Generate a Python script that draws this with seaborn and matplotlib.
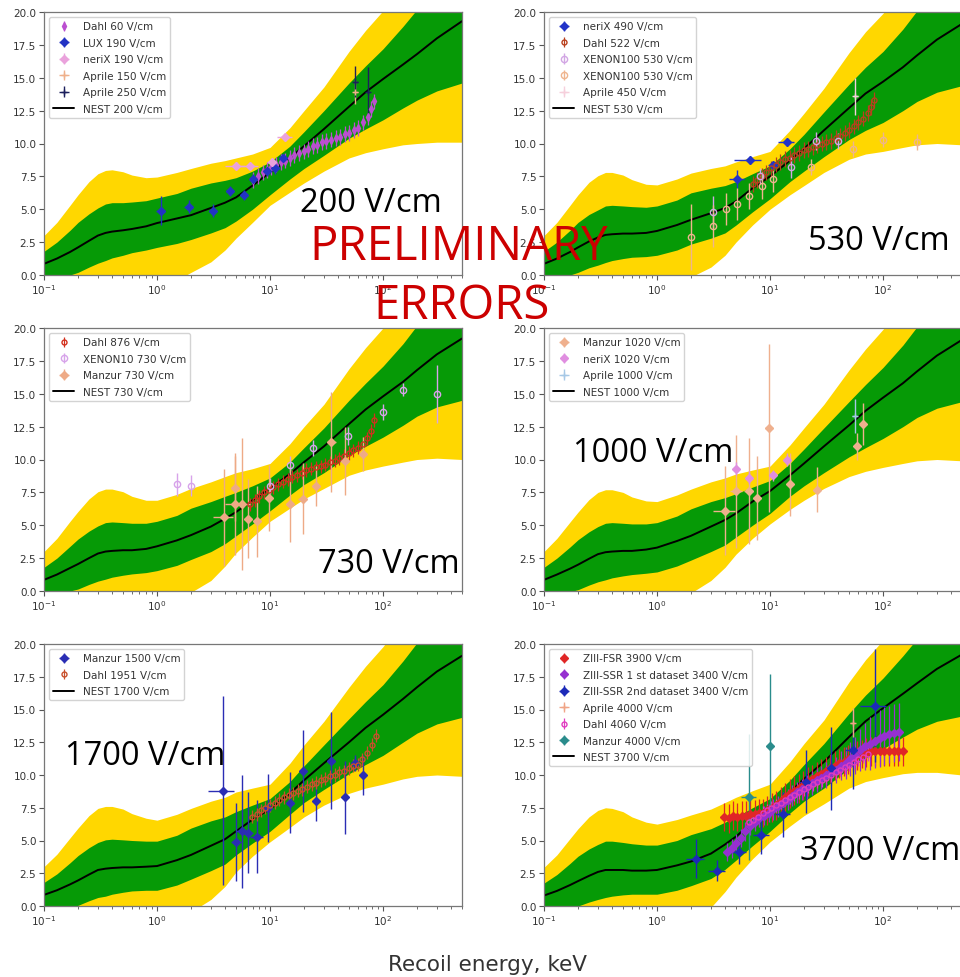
import matplotlib
matplotlib.use("Agg")
import matplotlib.pyplot as plt
import seaborn as sns
from matplotlib.ticker import FormatStrFormatter

# ---------------- NEST model: common energy grid (keV) ----------------
ENERGY = [0.1, 0.13, 0.17, 0.2, 0.25, 0.3, 0.35, 0.4, 0.5, 0.6, 0.8, 1, 1.5, 2, 3, 4, 5,
          7, 10, 15, 20, 30, 50, 70, 100, 150, 200, 300, 500]

# band extents relative to the NEST mean (green = 1 sigma, yellow = 2 sigma)
GREEN_UP = [0.95, 1.25, 1.65, 1.9, 2.05, 2.1, 2.2, 2.2, 2.1, 2.05, 1.95, 1.9, 1.9, 2.05, 1.9,
            1.7, 1.5, 1.1, 0.8, 0.9, 1.1, 1.4, 1.8, 2.0, 2.3, 2.9, 3.4, 3.5, 3.7]
GREEN_DN = [1.45, 1.55, 1.75, 1.9, 2.0, 2.1, 2.1, 2.0, 1.9, 1.8, 1.8, 1.85, 1.9, 1.85, 1.9,
            1.9, 1.8, 1.8, 1.7, 1.6, 1.7, 2.0, 2.4, 2.8, 3.1, 3.3, 3.5, 4.0, 4.7]
YELLOW_UP = [2.15, 2.75, 3.55, 4.0, 4.5, 4.7, 4.75, 4.7, 4.45, 4.1, 3.7, 3.5, 3.5, 3.55, 3.4,
             3.2, 3.0, 2.4, 1.9, 2.3, 2.7, 3.2, 4.2, 4.7, 5.2, 6.0, 7.2, 8.0, 9.7]
YELLOW_DN = [3.85, 4.05, 4.25, 4.4, 4.6, 4.8, 4.9, 4.9, 4.9, 4.9, 4.9, 4.95, 4.7, 4.35, 4.1,
             3.6, 3.1, 2.8, 2.5, 2.6, 2.8, 3.2, 3.9, 4.6, 5.3, 6.1, 6.8, 7.9, 9.2]

NEST_200 = [0.85, 1.25, 1.75, 2.1, 2.6, 3.0, 3.2, 3.3, 3.4, 3.5, 3.7, 3.95, 4.3, 4.55, 5.1,
            5.5, 5.9, 6.8, 7.8, 8.9, 9.8, 11.1, 12.8, 13.9, 14.9, 16.0, 16.8, 18.0, 19.3]
NEST_530 = [0.85, 1.25, 1.75, 2.1, 2.55, 2.85, 3.05, 3.1, 3.15, 3.15, 3.2, 3.35, 3.8, 4.2, 4.7,
            5.1, 5.6, 6.6, 7.5, 8.7, 9.6, 11.0, 12.7, 13.8, 14.7, 15.8, 16.7, 17.9, 19.1]
NEST_730 = [0.85, 1.25, 1.75, 2.05, 2.5, 2.85, 3.0, 3.05, 3.1, 3.1, 3.2, 3.4, 3.85, 4.25, 4.9,
            5.5, 6.0, 6.9, 7.8, 8.9, 9.8, 11.0, 12.7, 13.8, 14.8, 15.9, 16.8, 18.0, 19.2]
NEST_1000 = [0.85, 1.25, 1.7, 2.0, 2.45, 2.8, 2.95, 3.0, 3.05, 3.05, 3.15, 3.3, 3.8, 4.2, 4.9,
             5.4, 5.9, 6.8, 7.6, 8.8, 9.7, 11.0, 12.6, 13.7, 14.7, 15.8, 16.7, 17.9, 19.1]
NEST_1700 = [0.85, 1.2, 1.65, 1.95, 2.4, 2.75, 2.85, 2.9, 2.95, 2.95, 3.0, 3.05, 3.5, 3.9, 4.6,
             5.1, 5.7, 6.6, 7.4, 8.6, 9.6, 10.9, 12.5, 13.6, 14.6, 15.8, 16.7, 17.9, 19.1]
NEST_3700 = [0.8, 1.15, 1.6, 1.9, 2.3, 2.6, 2.75, 2.75, 2.75, 2.7, 2.7, 2.75, 3.1, 3.4, 4.0,
             4.7, 5.3, 6.4, 7.4, 8.7, 9.7, 11.0, 12.9, 14.1, 15.1, 16.2, 17.0, 18.1, 19.2]

# ---------------- measurements: 200 V/cm ----------------
DAHL60_E = [7.1, 7.8, 8.6, 9.4, 10.3, 11.3, 12.4, 13.6, 15.0, 16.4, 18.0, 19.8, 21.7, 23.8,
            26.1, 28.7, 31.5, 34.6, 38.0, 41.7, 45.8, 50.3, 55.2, 60.6, 66.5, 73.0, 78.0, 83.0]
DAHL60_Y = [7.2, 7.5, 7.8, 8.0, 8.2, 8.4, 8.6, 8.7, 8.9, 9.1, 9.3, 9.4, 9.6, 9.8, 9.9, 10.1,
            10.2, 10.3, 10.4, 10.5, 10.7, 10.8, 11.0, 11.2, 11.6, 12.0, 12.6, 13.2]
DAHL60_YERR = 0.6
LUX190_E = [1.08, 1.9, 3.1, 4.4, 5.9, 7.1, 9.4, 11.0, 12.9]
LUX190_Y = [4.9, 5.2, 4.9, 6.4, 6.1, 7.3, 7.9, 8.1, 8.9]
LUX190_YERR = [1.1, 0.5, 0.5, 0.4, 0.4, 0.4, 0.4, 0.4, 0.3]
LUX190_XERR = [0.1, 0.15, 0.2, 0.3, 0.4, 0.5, 0.6, 0.7, 0.8]
NERIX190_E = [5.0, 6.6, 10.4, 13.5]
NERIX190_Y = [8.3, 8.3, 8.6, 10.5]
NERIX190_YERR = [0.3, 0.3, 0.3, 0.3]
NERIX190_XERR = [1.0, 1.2, 1.0, 2.0]
APRILE150_E = [57.0]
APRILE150_Y = [13.9]
APRILE150_YERR = [0.9]
APRILE250_E = [57.0, 74.0]
APRILE250_Y = [14.7, 13.9]
APRILE250_YERR = [1.2, 1.9]

# ---------------- measurements: 530 V/cm ----------------
NERIX490_E = [5.1, 6.6, 10.6, 14.0]
NERIX490_Y = [7.3, 8.75, 8.4, 10.1]
NERIX490_YERR = [0.7, 0.3, 0.3, 0.3]
NERIX490_XERR = [0.8, 1.8, 1.0, 2.2]
DAHL522_E = [7.0, 7.7, 8.5, 9.3, 10.2, 11.2, 12.3, 13.5, 14.9, 16.4, 18.0, 19.8, 21.7, 23.8,
             26.1, 28.7, 31.5, 34.6, 38.0, 41.7, 45.8, 50.3, 55.2, 60.6, 66.5, 73.0, 78.0, 83.0]
DAHL522_Y = [6.9, 7.2, 7.5, 7.8, 8.1, 8.4, 8.6, 8.8, 8.9, 9.1, 9.3, 9.5, 9.6, 9.7, 9.9, 10.0,
             10.1, 10.2, 10.4, 10.6, 10.8, 11.0, 11.3, 11.6, 11.9, 12.3, 12.8, 13.3]
DAHL522_YERR = 0.6
XE100A_E = [3.1, 8.2, 15.2, 25.5, 40.0]
XE100A_Y = [4.8, 7.5, 8.2, 10.2, 10.2]
XE100A_YERR = [1.2, 0.6, 0.8, 0.7, 0.6]
XE100B_E = [2.0, 3.1, 4.1, 5.1, 6.5, 8.5, 10.7, 23.0, 54.0, 100.0, 200.0]
XE100B_Y = [2.9, 3.7, 5.0, 5.4, 6.0, 6.8, 7.3, 8.2, 9.6, 10.3, 10.1]
XE100B_YERR = [2.5, 1.6, 1.2, 1.2, 1.0, 1.0, 1.0, 0.6, 0.6, 0.6, 0.6]
APRILE450_E = [57.0]
APRILE450_Y = [13.6]
APRILE450_YERR = [1.4]

# ---------------- measurements: 730 V/cm ----------------
DAHL876_E = [6.6, 7.3, 8.0, 8.8, 9.7, 10.7, 11.8, 13.0, 14.3, 15.8, 17.4, 19.1, 21.0, 23.1,
             25.4, 28.0, 30.8, 33.9, 37.3, 41.0, 45.1, 49.6, 54.6, 60.0, 66.0, 72.6, 78.0, 84.0]
DAHL876_Y = [6.6, 6.9, 7.2, 7.5, 7.7, 7.9, 8.1, 8.3, 8.5, 8.7, 8.8, 9.0, 9.2, 9.3, 9.4, 9.5,
             9.6, 9.8, 9.9, 10.1, 10.3, 10.5, 10.7, 10.9, 11.2, 11.6, 12.2, 13.0]
DAHL876_YERR = 0.5
XE10_E = [1.5, 2.0, 10.0, 15.0, 24.0, 49.0, 100.0, 150.0, 300.0]
XE10_Y = [8.1, 8.0, 8.0, 9.6, 10.9, 11.8, 13.6, 15.3, 15.0]
XE10_YERR = [0.9, 0.8, 0.6, 0.7, 0.6, 0.7, 0.6, 0.5, 2.2]
MANZUR730_E = [3.9, 4.9, 4.9, 5.7, 6.4, 7.6, 9.8, 15.0, 19.5, 25.5, 35.0, 46.0, 66.0]
MANZUR730_Y = [5.6, 6.6, 7.8, 6.6, 5.5, 5.3, 7.1, 6.6, 7.0, 8.0, 11.3, 9.9, 10.4]
MANZUR730_YERR = [3.7, 3.9, 2.5, 5.0, 3.0, 2.7, 2.5, 2.9, 2.7, 1.5, 3.8, 2.6, 1.3]
MANZUR730_XERR = [0.8, 0.9, 0.4, 1.0, 0.5, 0.6, 0.8, 1.2, 1.8, 2.0, 3.0, 4.0, 5.0]

# ---------------- measurements: 1000 V/cm ----------------
MANZUR1020_E = [4.0, 5.0, 6.5, 7.7, 9.8, 15.0, 26.0, 59.0, 67.0]
MANZUR1020_Y = [6.1, 7.6, 7.6, 7.1, 12.4, 8.1, 7.7, 11.0, 12.7]
MANZUR1020_YERR = [3.4, 4.3, 4.0, 3.2, 6.4, 2.4, 1.7, 1.0, 1.6]
MANZUR1020_XERR = [0.9, 0.6, 0.6, 0.6, 0.8, 0.8, 1.2, 2.0, 2.0]
NERIX1020_E = [5.0, 6.5, 10.6, 14.0]
NERIX1020_Y = [9.3, 8.6, 8.8, 10.0]
NERIX1020_YERR = [0.5, 0.5, 0.4, 0.5]
APRILE1000_E = [56.0]
APRILE1000_Y = [13.3]
APRILE1000_YERR = [1.3]

# ---------------- measurements: 1700 V/cm ----------------
MANZUR1500_E = [3.8, 5.0, 5.6, 6.4, 7.6, 9.6, 15.0, 19.5, 25.5, 35.0, 46.0, 57.0, 66.0]
MANZUR1500_Y = [8.8, 4.9, 5.7, 5.6, 5.3, 7.5, 7.9, 10.3, 8.0, 11.1, 8.3, 10.9, 10.0]
MANZUR1500_YERR = [7.2, 3.0, 4.3, 3.1, 2.8, 2.6, 2.3, 3.1, 1.5, 3.7, 2.8, 0.6, 1.5]
MANZUR1500_XERR = [1.0, 0.5, 0.6, 0.6, 1.0, 0.5, 0.8, 1.0, 1.2, 1.5, 2.0, 2.5, 3.0]
DAHL1951_E = [6.9, 7.6, 8.3, 9.1, 10.0, 11.0, 12.1, 13.3, 14.6, 16.0, 17.6, 19.3, 21.2, 23.3,
              25.6, 28.1, 30.9, 33.9, 37.3, 41.0, 45.0, 49.5, 54.4, 59.8, 65.7, 72.2, 79.3, 87.0]
DAHL1951_Y = [6.8, 7.0, 7.3, 7.5, 7.7, 7.9, 8.1, 8.3, 8.5, 8.6, 8.8, 8.9, 9.1, 9.3, 9.4, 9.6,
              9.7, 9.9, 10.0, 10.2, 10.3, 10.5, 10.7, 10.8, 11.2, 11.7, 12.3, 13.0]
DAHL1951_YERR = 0.5

# ---------------- measurements: 3700 V/cm ----------------
ZFSR_E = [3.9, 4.3, 4.7, 5.1, 5.6, 6.1, 6.7, 7.3, 8.0, 8.7, 9.5, 10.4, 11.4, 12.5, 13.7, 15.0,
          16.4, 18.0, 19.7, 21.6, 23.6, 25.9, 28.4, 31.1, 34.1, 37.4, 41.0, 45.0, 49.3, 54.0,
          59.2, 64.9, 71.1, 78.0, 85.5, 93.7, 103.0, 113.0, 124.0, 136.0, 149.0]
ZFSR_Y = [6.8, 6.7, 6.9, 6.8, 6.9, 6.9, 7.0, 7.0, 7.1, 7.1, 7.3, 7.5, 7.7, 8.0, 8.3, 8.6, 8.8,
          9.0, 9.2, 9.5, 9.7, 9.9, 10.1, 10.3, 10.5, 10.7, 10.9, 11.0, 11.2, 11.4, 11.5, 11.6,
          11.7, 11.8, 11.8, 11.8, 11.8, 11.8, 11.8, 11.8, 11.8]
ZFSR_YERR = 1.1
ZSSR1_E = [4.2, 4.6, 5.0, 5.5, 6.0, 6.6, 7.3, 8.0, 8.8, 9.7, 10.7, 11.8, 13.0, 14.3, 15.8, 17.4,
           19.2, 21.2, 23.4, 25.8, 28.5, 31.4, 34.7, 38.3, 42.3, 46.7, 51.5, 56.9, 62.8, 69.3,
           76.5, 84.5, 93.3, 103.0, 114.0, 126.0, 139.0]
ZSSR1_Y = [4.1, 4.4, 4.8, 5.2, 5.7, 6.1, 6.4, 6.7, 6.9, 7.1, 7.4, 7.6, 7.9, 8.1, 8.4, 8.7, 8.9,
           9.1, 9.4, 9.6, 9.8, 10.0, 10.2, 10.4, 10.7, 10.9, 11.2, 11.5, 11.9, 12.2, 12.4, 12.6,
           12.8, 13.0, 13.1, 13.2, 13.3]
ZSSR1_YERR = [0.7, 0.7, 0.7, 0.7, 0.7, 0.7, 0.7, 0.7, 0.7, 0.7, 0.8, 0.8, 0.8, 0.8, 0.8, 0.8,
              0.8, 0.9, 0.9, 0.9, 0.9, 1.0, 1.0, 1.0, 1.1, 1.2, 1.3, 1.4, 1.6, 1.8, 2.0, 2.1,
              2.2, 2.2, 2.2, 2.2, 2.2]
ZSSR2_E = [2.2, 3.4, 5.3, 8.4, 13.0, 21.0, 35.0, 54.0, 85.0]
ZSSR2_Y = [3.6, 2.7, 4.1, 5.4, 7.0, 9.5, 10.5, 11.9, 15.3]
ZSSR2_YERR = [1.5, 0.8, 0.9, 1.4, 1.7, 2.4, 3.2, 3.0, 4.3]
ZSSR2_XERR = [0.4, 0.6, 0.8, 1.3, 2.0, 3.0, 5.0, 8.0, 22.0]
APRILE4000_E = [54.0]
APRILE4000_Y = [14.0]
APRILE4000_YERR = [1.1]
DAHL4060_E = [6.5, 7.1, 7.8, 8.6, 9.4, 10.3, 11.3, 12.4, 13.6, 15.0, 16.4, 18.0, 19.8, 21.7,
              23.8, 26.1, 28.7, 31.5, 34.6, 38.0, 41.7, 45.8, 50.3, 55.2, 60.6, 66.5, 73.0]
DAHL4060_Y = [6.4, 6.6, 6.8, 7.1, 7.3, 7.5, 7.7, 7.9, 8.1, 8.3, 8.5, 8.7, 8.9, 9.1, 9.3, 9.5,
              9.6, 9.8, 10.0, 10.2, 10.4, 10.6, 10.8, 11.0, 11.2, 11.4, 11.6]
DAHL4060_YERR = 0.5
MANZUR4000_E = [6.5, 10.0]
MANZUR4000_Y = [8.3, 12.2]
MANZUR4000_YERR = [4.8, 5.5]
MANZUR4000_XERR = [1.0, 0.5]

# ---------------- styling ----------------
sns.set_style("ticks")
plt.rcParams["font.family"] = ["DejaVu Sans"]
GREEN = "#069a06"
YELLOW = "#ffd700"
ANNOT_FONT = ["Open Sans", "DejaVu Sans"]

W, H = 960, 978
fig = plt.figure(figsize=(W / 100, H / 100), dpi=100)


def px_axes(x0, y_top, x1, y_bot):
    return fig.add_axes([x0 / W, 1 - y_bot / H, (x1 - x0) / W, (y_bot - y_top) / H])


def series(e, y, yerr, color, marker, label, xerr=None, hollow=False, ms=4.5, dense=False):
    return dict(e=e, y=y, yerr=yerr, xerr=xerr, color=color, marker=marker,
                label=label, hollow=hollow, ms=ms, dense=dense)


PANELS = [
    dict(rect=(44, 13, 462, 276), nest=NEST_200, nest_label="NEST 200 V/cm", data=[
        series(DAHL60_E, DAHL60_Y, DAHL60_YERR, "#bb4fd0", "d", "Dahl 60 V/cm", dense=True),
        series(LUX190_E, LUX190_Y, LUX190_YERR, "#2233c4", "D", "LUX 190 V/cm", xerr=LUX190_XERR),
        series(NERIX190_E, NERIX190_Y, NERIX190_YERR, "#eaa2dc", "D", "neriX 190 V/cm",
               xerr=NERIX190_XERR),
        series(APRILE150_E, APRILE150_Y, APRILE150_YERR, "#efb08a", "+", "Aprile 150 V/cm",
               xerr=[3.0], ms=5),
        series(APRILE250_E, APRILE250_Y, APRILE250_YERR, "#1c1f5c", "+", "Aprile 250 V/cm",
               xerr=[3.0, 3.0], ms=5),
    ]),
    dict(rect=(544, 13, 962, 276), nest=NEST_530, nest_label="NEST 530 V/cm", data=[
        series(NERIX490_E, NERIX490_Y, NERIX490_YERR, "#2233c8", "D", "neriX 490 V/cm",
               xerr=NERIX490_XERR),
        series(DAHL522_E, DAHL522_Y, DAHL522_YERR, "#b8401e", "o", "Dahl 522 V/cm", hollow=True,
               dense=True),
        series(XE100A_E, XE100A_Y, XE100A_YERR, "#d2a6e4", "o", "XENON100 530 V/cm", hollow=True),
        series(XE100B_E, XE100B_Y, XE100B_YERR, "#efb48e", "o", "XENON100 530 V/cm", hollow=True),
        series(APRILE450_E, APRILE450_Y, APRILE450_YERR, "#f6d0dc", "+", "Aprile 450 V/cm",
               xerr=[3.0], ms=5),
    ]),
    dict(rect=(44, 329, 462, 592), nest=NEST_730, nest_label="NEST 730 V/cm", data=[
        series(DAHL876_E, DAHL876_Y, DAHL876_YERR, "#d2301e", "o", "Dahl 876 V/cm", hollow=True,
               dense=True),
        series(XE10_E, XE10_Y, XE10_YERR, "#d7a3ea", "o", "XENON10 730 V/cm", hollow=True),
        series(MANZUR730_E, MANZUR730_Y, MANZUR730_YERR, "#eeaa86", "D", "Manzur 730 V/cm",
               xerr=MANZUR730_XERR),
    ]),
    dict(rect=(544, 329, 962, 592), nest=NEST_1000, nest_label="NEST 1000 V/cm", data=[
        series(MANZUR1020_E, MANZUR1020_Y, MANZUR1020_YERR, "#efb08e", "D", "Manzur 1020 V/cm",
               xerr=MANZUR1020_XERR),
        series(NERIX1020_E, NERIX1020_Y, NERIX1020_YERR, "#e08ee0", "D", "neriX 1020 V/cm"),
        series(APRILE1000_E, APRILE1000_Y, APRILE1000_YERR, "#a6c8e6", "+", "Aprile 1000 V/cm",
               xerr=[3.0], ms=5),
    ]),
    dict(rect=(44, 645, 462, 907), nest=NEST_1700, nest_label="NEST 1700 V/cm", data=[
        series(MANZUR1500_E, MANZUR1500_Y, MANZUR1500_YERR, "#2a2db4", "D", "Manzur 1500 V/cm",
               xerr=MANZUR1500_XERR),
        series(DAHL1951_E, DAHL1951_Y, DAHL1951_YERR, "#c8502c", "o", "Dahl 1951 V/cm", hollow=True,
               dense=True),
    ]),
    dict(rect=(544, 645, 962, 907), nest=NEST_3700, nest_label="NEST 3700 V/cm", data=[
        series(ZFSR_E, ZFSR_Y, ZFSR_YERR, "#e02626", "D", "ZIII-FSR 3900 V/cm", dense=True),
        series(ZSSR1_E, ZSSR1_Y, ZSSR1_YERR, "#9630d0", "D", "ZIII-SSR 1 st dataset 3400 V/cm",
               dense=True),
        series(ZSSR2_E, ZSSR2_Y, ZSSR2_YERR, "#1c2ab8", "D", "ZIII-SSR 2nd dataset 3400 V/cm",
               xerr=ZSSR2_XERR),
        series(APRILE4000_E, APRILE4000_Y, APRILE4000_YERR, "#f0a486", "+", "Aprile 4000 V/cm",
               xerr=[3.0], ms=5),
        series(DAHL4060_E, DAHL4060_Y, DAHL4060_YERR, "#e03cc0", "o", "Dahl 4060 V/cm",
               hollow=True, dense=True),
        series(MANZUR4000_E, MANZUR4000_Y, MANZUR4000_YERR, "#2a8c8c", "D", "Manzur 4000 V/cm",
               xerr=MANZUR4000_XERR),
    ]),
]

for panel in PANELS:
    ax = px_axes(*panel["rect"])
    nest = panel["nest"]
    g_hi = [n + d for n, d in zip(nest, GREEN_UP)]
    g_lo = [n - d for n, d in zip(nest, GREEN_DN)]
    y_hi = [n + d for n, d in zip(nest, YELLOW_UP)]
    y_lo = [n - d for n, d in zip(nest, YELLOW_DN)]

    ax.fill_between(ENERGY, y_lo, y_hi, color=YELLOW, lw=0, zorder=1)
    ax.fill_between(ENERGY, g_lo, g_hi, color=GREEN, lw=0, zorder=1.5)
    sns.lineplot(x=ENERGY, y=nest, ax=ax, color="black", lw=1.4, sort=False,
                 legend=False, zorder=2)
    nest_line = ax.get_lines()[-1]
    nest_line.set_label(panel["nest_label"])

    handles = []
    for s in panel["data"]:
        ms = 3.6 if s["dense"] else s["ms"]
        elw = 0.9 if s["dense"] else 1.0
        h = ax.errorbar(s["e"], s["y"], yerr=s["yerr"], xerr=s["xerr"], fmt=s["marker"],
                        color=s["color"], ecolor=s["color"],
                        mfc="none" if s["hollow"] else s["color"], mec=s["color"],
                        mew=1.0, ms=ms, elinewidth=elw, capsize=0,
                        label=s["label"], zorder=4)
        handles.append(h)
    handles.append(nest_line)

    ax.set_xscale("log")
    ax.set_xlim(0.1, 500)
    ax.set_ylim(0, 20)
    ax.set_yticks([0, 2.5, 5, 7.5, 10, 12.5, 15, 17.5, 20])
    ax.yaxis.set_major_formatter(FormatStrFormatter("%.1f"))
    ax.tick_params(which="major", labelsize=7.5, labelcolor="#333333", color="#555555",
                   length=3.5, width=0.8, pad=2)
    ax.tick_params(which="minor", color="#555555", length=2, width=0.6)
    for sp in ax.spines.values():
        sp.set_color("#777777")
        sp.set_linewidth(0.9)
    ax.legend(handles=handles, loc="upper left", fontsize=7.5, frameon=True,
              framealpha=0.85, edgecolor="#cccccc", fancybox=True, labelspacing=0.62,
              borderaxespad=0.5, labelcolor="#333333")


def ftext(px, py, s, **kw):
    fig.text(px / W, 1 - py / H, s, **kw)


field_style = dict(fontsize=23.5, family=ANNOT_FONT, color="black", va="baseline",
                   ha="left", zorder=10)
ftext(300, 212, "200 V/cm", **field_style)
ftext(808, 250, "530 V/cm", **field_style)
ftext(318, 573, "730 V/cm", **field_style)
ftext(573, 462, "1000 V/cm", **field_style)
ftext(65, 765, "1700 V/cm", **field_style)
ftext(800, 860, "3700 V/cm", **field_style)

red_style = dict(fontsize=34, family=ANNOT_FONT, color="#cc0000", va="baseline",
                 ha="center", zorder=10)
ftext(459, 260, "PRELIMINARY", **red_style)
ftext(462, 319, "ERRORS", **red_style)

ftext(488, 971, "Recoil energy, keV", fontsize=15.5, color="#333333", ha="center",
      va="baseline")

fig.savefig("out.png", dpi=100)
